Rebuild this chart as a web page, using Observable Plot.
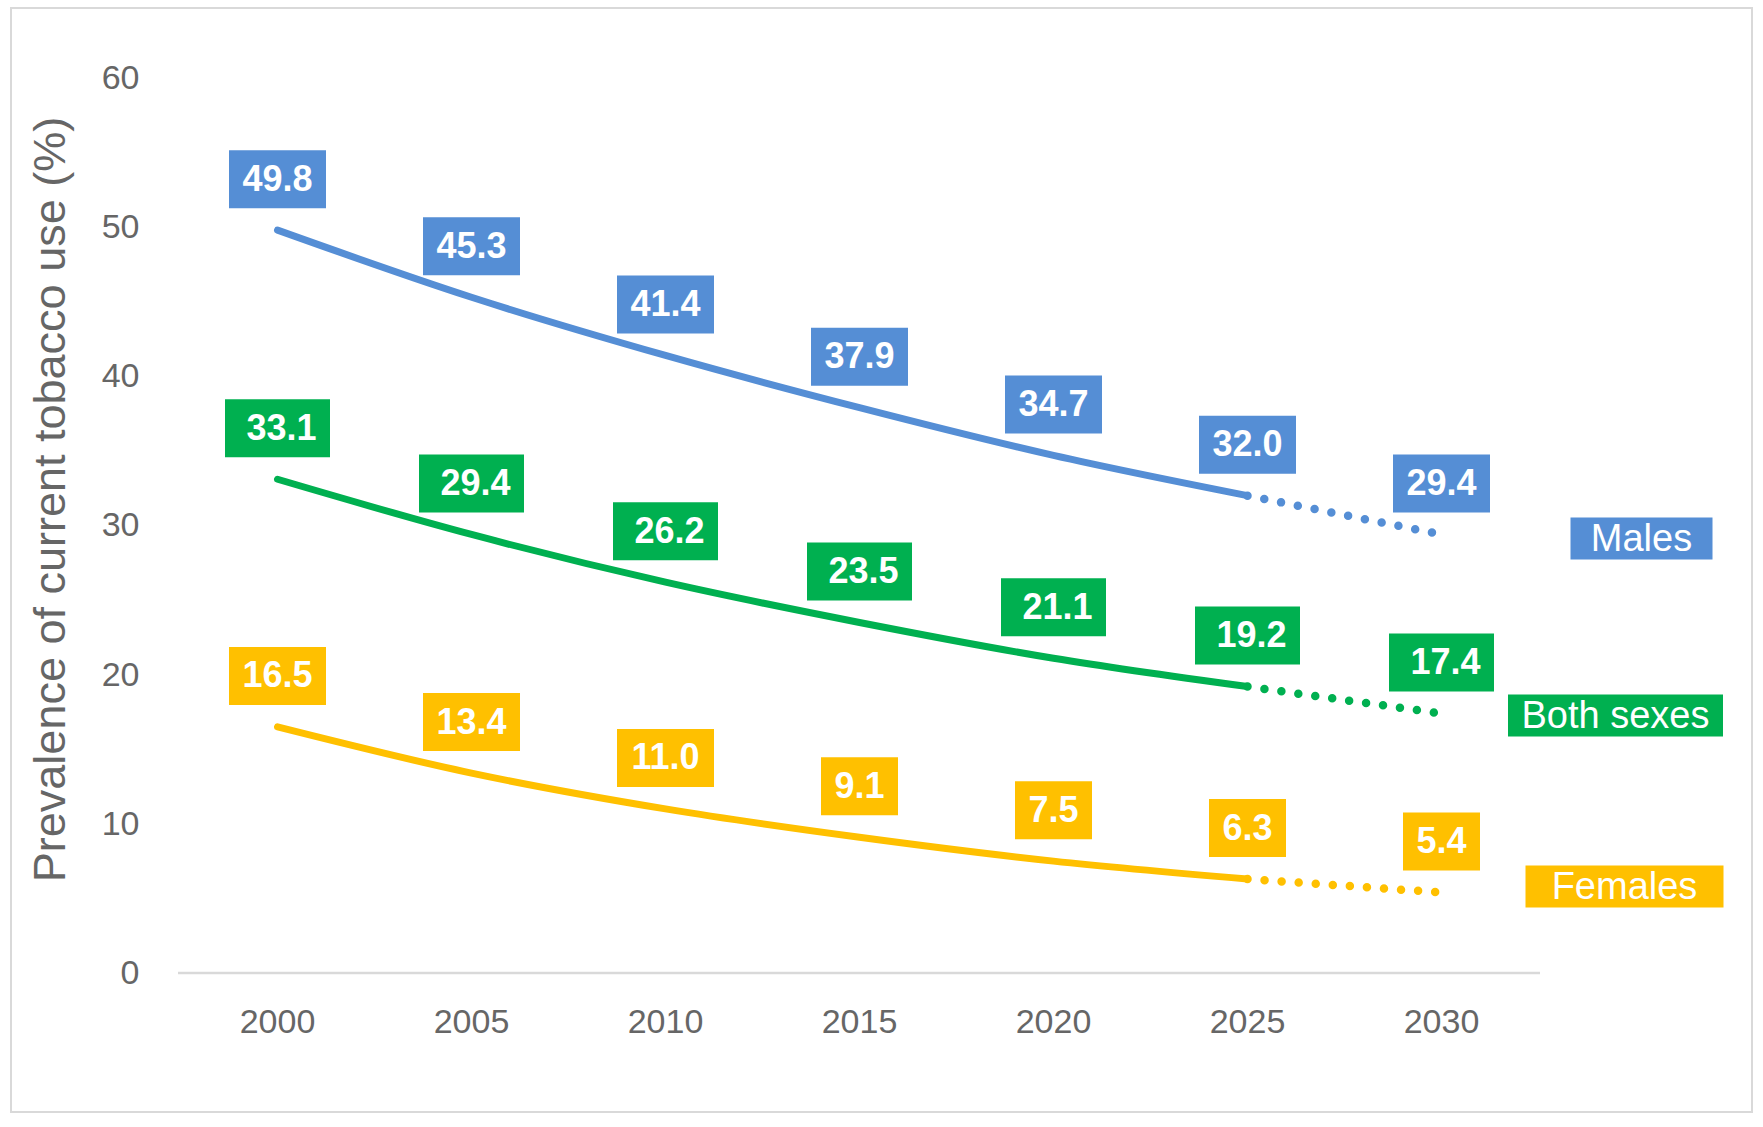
<!DOCTYPE html>
<html>
<head>
<meta charset="utf-8">
<script src="https://cdn.jsdelivr.net/npm/d3@7"></script>
<script src="https://cdn.jsdelivr.net/npm/@observablehq/plot@0.6"></script>
<style>
  html, body { margin: 0; padding: 0; background: #fff; }
  #wrap { position: relative; width: 1763px; height: 1127px; overflow: hidden; }
  #chart { position: absolute; left: 0; top: 0; }
  #border { position: absolute; left: 10px; top: 7px; width: 1739px; height: 1102px;
            border: 2px solid #D9D9D9; pointer-events: none; z-index: 2; }
</style>
</head>
<body>
<div id="wrap"><div id="chart"></div><div id="border"></div></div>
<script>
// ---- data ----
const years = [2000, 2005, 2010, 2015, 2020, 2025, 2030];
const males = [49.8, 45.3, 41.4, 37.9, 34.7, 32.0, 29.4];
const bothSexes = [33.1, 29.4, 26.2, 23.5, 21.1, 19.2, 17.4];
const females = [16.5, 13.4, 11.0, 9.1, 7.5, 6.3, 5.4];
const seriesNames = ["Males", "Both sexes", "Females"];
const yTicks = [0, 10, 20, 30, 40, 50, 60];
const yTitle = "Prevalence of current tobacco use (%)";
const lastObservedYear = 2025;

// ---- styles ----
const FONT = "'Liberation Sans', Arial, sans-serif";
const style = {
  "Males":      { color: "#558ED5", boxW: 97,  textDx: 0, legendW: 142, legendDx: 200, legendDy: 4 },
  "Both sexes": { color: "#00B050", boxW: 105, textDx: 4, legendW: 215, legendDx: 174, legendDy: 2 },
  "Females":    { color: "#FFC000", boxW: 97,  textDx: 0, legendW: 198, legendDx: 183, legendDy: -6 }
};
const smallBoxW = 77, boxH = 58, labelDy = -51, legendH = 42;

const valuesBySeries = { "Males": males, "Both sexes": bothSexes, "Females": females };
const rows = seriesNames.flatMap(s => years.map((year, i) => ({
  series: s, year, value: valuesBySeries[s][i], label: valuesBySeries[s][i].toFixed(1)
})));

const boxSymbol = (w, h) => ({ draw(ctx) { ctx.rect(-w / 2, -h / 2, w, h); } });

const marks = [Plot.ruleY([0], { stroke: "#D9D9D9", strokeWidth: 2.5 })];

for (const s of seriesNames) {
  const st = style[s];
  const data = rows.filter(d => d.series === s);
  marks.push(
    Plot.line(data.filter(d => d.year <= lastObservedYear), {
      x: "year", y: "value", stroke: st.color, strokeWidth: 7, curve: "monotone-x", strokeLinecap: "round"
    }),
    Plot.line(data.filter(d => d.year >= lastObservedYear), {
      x: "year", y: "value", stroke: st.color, strokeWidth: 8.5, strokeDasharray: "0 17.1", strokeLinecap: "round"
    }),
    Plot.dot(data.filter(d => d.label.length >= 4), {
      x: "year", y: "value", symbol: boxSymbol(st.boxW, boxH), fill: st.color, stroke: "none", dy: labelDy
    }),
    Plot.dot(data.filter(d => d.label.length < 4), {
      x: "year", y: "value", symbol: boxSymbol(smallBoxW, boxH), fill: st.color, stroke: "none", dy: labelDy
    }),
    Plot.text(data, {
      x: "year", y: "value", text: "label", fill: "white", fontWeight: "bold", fontSize: 36,
      fontFamily: FONT, dy: labelDy, dx: st.textDx
    }),
    Plot.dot(data.filter(d => d.year === years[years.length - 1]), {
      x: "year", y: "value", symbol: boxSymbol(st.legendW, legendH), fill: st.color, stroke: "none",
      dx: st.legendDx, dy: st.legendDy
    }),
    Plot.text(data.filter(d => d.year === years[years.length - 1]), {
      x: "year", y: "value", text: "series", fill: "white", fontSize: 38, fontFamily: FONT,
      dx: st.legendDx, dy: st.legendDy
    })
  );
}

marks.push(Plot.text([yTitle], {
  frameAnchor: "left", textAnchor: "middle", rotate: -90, dx: -128, dy: -26,
  fontSize: 45, fill: "#666", fontFamily: FONT
}));

const chart = Plot.plot({
  width: 1763,
  height: 1127,
  marginLeft: 178,
  marginRight: 223,
  marginTop: 77.5,
  marginBottom: 154.5,
  style: { fontFamily: FONT, fontSize: "34px", color: "#666", background: "transparent", overflow: "visible" },
  x: { type: "point", domain: years, padding: 0.5, tickSize: 0, tickPadding: 36, tickFormat: d => String(d), label: null },
  y: { domain: [0, 60], ticks: yTicks, tickSize: 0, tickPadding: 39, label: null },
  marks
});
document.getElementById("chart").appendChild(chart);
</script>
</body>
</html>
